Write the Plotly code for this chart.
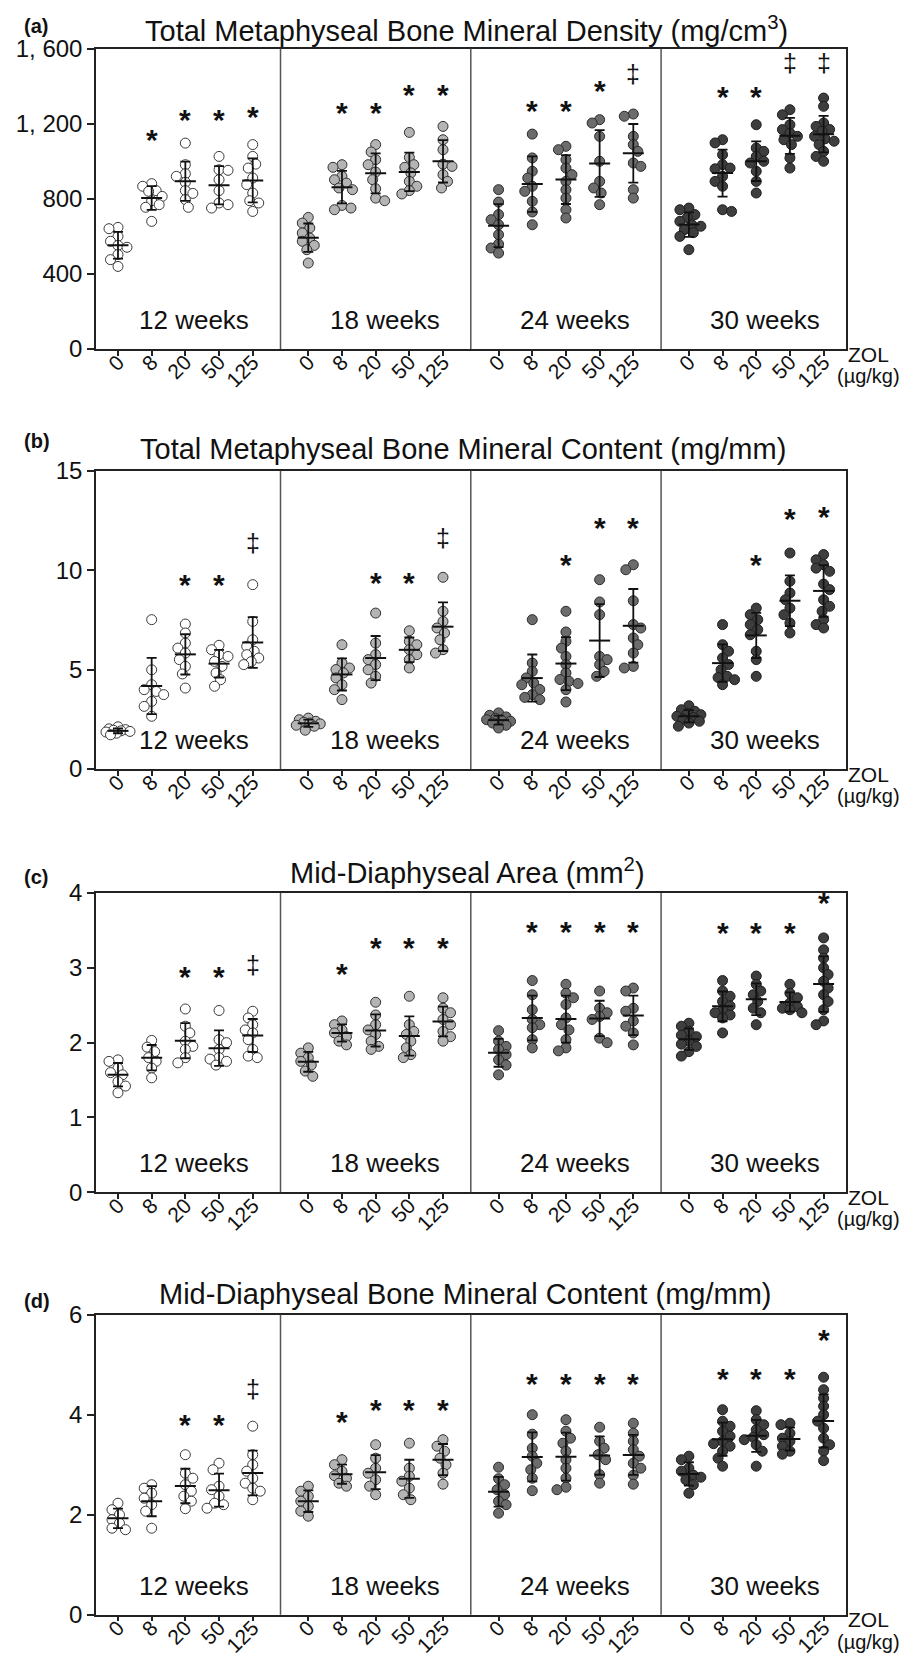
import numpy as np
import plotly.graph_objects as go

doses = ["0", "8", "20", "50", "125"]
weeks = ["12 weeks", "18 weeks", "24 weeks", "30 weeks"]

# ---------------- (a) Total Metaphyseal BMD (mg/cm3) ----------------
bmd_12w = [
    [648, 641, 600, 574, 552, 542, 503, 476, 440],
    [881, 867, 844, 840, 813, 790, 769, 755, 680],
    [1097, 982, 934, 920, 888, 844, 829, 796, 755],
    [1026, 955, 952, 902, 844, 778, 769, 751],
    [1089, 1026, 985, 964, 911, 876, 831, 790, 778, 733],
]
bmd_18w = [
    [701, 671, 645, 618, 591, 574, 552, 529, 458],
    [982, 968, 920, 902, 884, 858, 849, 765, 751, 742],
    [1089, 1050, 1009, 982, 943, 902, 854, 804, 790],
    [1154, 1021, 982, 968, 938, 893, 867, 844, 826],
    [1186, 1115, 1062, 985, 973, 929, 893, 858],
]
bmd_24w = [
    [849, 783, 716, 689, 662, 609, 559, 538, 511],
    [1145, 1018, 947, 911, 867, 840, 787, 730, 662],
    [1080, 1062, 1009, 964, 929, 893, 849, 804, 742, 698],
    [1222, 1204, 1133, 1000, 893, 858, 831, 769],
    [1252, 1240, 1133, 1089, 1053, 991, 973, 849, 804],
]
bmd_30w = [
    [751, 742, 716, 700, 680, 662, 654, 636, 620, 600, 529],
    [1115, 1098, 1035, 982, 964, 960, 920, 893, 867, 742, 733],
    [1195, 1071, 1053, 1026, 1000, 991, 947, 893, 831],
    [1275, 1248, 1195, 1169, 1150, 1133, 1115, 1089, 1018, 964],
    [1337, 1293, 1204, 1186, 1170, 1160, 1133, 1120, 1107, 1089, 1053, 1026, 1000],
]
bmd_sig = [["", "*", "*", "*", "*"], ["", "*", "*", "*", "*"],
           ["", "*", "*", "*", "‡"], ["", "*", "*", "‡", "‡"]]
bmd_sig_y = [[None, 1089, 1195, 1195, 1213], [None, 1231, 1231, 1328, 1328],
             [None, 1245, 1245, 1351, 1426], [None, 1320, 1320, 1488, 1488]]

# ---------------- (b) Total Metaphyseal BMC (mg/mm) ----------------
bmc_12w = [
    [2.12, 2.02, 1.98, 1.95, 1.92, 1.89, 1.86, 1.80, 1.72],
    [7.51, 4.99, 4.24, 3.99, 3.90, 3.74, 3.40, 3.15, 2.65],
    [7.29, 6.84, 6.33, 6.08, 5.83, 5.50, 5.16, 4.78, 4.07],
    [6.22, 6.00, 5.75, 5.66, 5.41, 5.16, 4.83, 4.49, 4.16],
    [9.27, 7.42, 6.50, 6.17, 5.92, 5.75, 5.58, 5.40, 5.25],
]
bmc_18w = [
    [2.56, 2.48, 2.40, 2.35, 2.31, 2.27, 2.20, 2.15, 1.95],
    [6.25, 5.33, 5.08, 5.00, 4.83, 4.58, 4.24, 3.99, 3.49],
    [7.84, 6.33, 5.75, 5.50, 5.25, 4.99, 4.66, 4.32],
    [6.95, 6.42, 6.25, 6.00, 5.75, 5.50, 5.08],
    [9.64, 7.93, 7.42, 7.09, 6.84, 6.50, 6.00, 5.83],
]
bmc_24w = [
    [2.82, 2.70, 2.62, 2.55, 2.48, 2.45, 2.40, 2.31, 2.20, 2.06],
    [7.51, 5.33, 4.91, 4.58, 4.32, 4.24, 4.00, 3.74, 3.60, 3.49],
    [7.93, 6.89, 6.42, 6.08, 5.66, 5.25, 4.83, 4.50, 4.41, 4.30, 3.99, 3.37],
    [9.52, 8.40, 7.76, 5.66, 5.50, 5.25, 4.91, 4.66],
    [10.27, 10.02, 8.46, 7.26, 7.09, 6.59, 6.25, 5.83, 5.16, 5.08],
]
bmc_30w = [
    [3.18, 2.98, 2.90, 2.80, 2.73, 2.65, 2.58, 2.50, 2.40, 2.31, 2.15],
    [7.26, 6.25, 5.92, 5.58, 5.25, 4.99, 4.66, 4.60, 4.49, 4.24],
    [8.09, 7.76, 7.51, 7.26, 7.01, 6.75, 5.92, 5.50, 4.66],
    [10.86, 9.44, 8.85, 8.51, 8.09, 7.76, 7.34, 6.84],
    [10.78, 10.52, 10.27, 10.10, 9.94, 9.30, 9.02, 8.51, 8.18, 7.93, 7.51, 7.26, 7.09],
]
bmc_sig = [["", "", "*", "*", "‡"], ["", "", "*", "*", "‡"],
           ["", "", "*", "*", "*"], ["", "", "*", "*", "*"]]
bmc_sig_y = [[None, None, 9.02, 9.02, 11.03], [None, None, 9.13, 9.13, 11.28],
             [None, None, 10.02, 11.9, 11.9], [None, None, 10.02, 12.37, 12.45]]

# ---------------- (c) Mid-Diaphyseal Area (mm2) ----------------
area_12w = [
    [1.77, 1.75, 1.66, 1.60, 1.57, 1.48, 1.42, 1.33],
    [2.03, 1.94, 1.88, 1.80, 1.75, 1.66, 1.53],
    [2.45, 2.22, 2.13, 2.02, 1.95, 1.91, 1.80, 1.73],
    [2.43, 2.04, 2.00, 1.91, 1.80, 1.78, 1.75, 1.70],
    [2.42, 2.33, 2.24, 2.17, 2.13, 2.04, 1.91, 1.82, 1.80],
]
area_18w = [
    [1.93, 1.86, 1.80, 1.75, 1.70, 1.62, 1.55],
    [2.29, 2.24, 2.17, 2.13, 2.08, 2.02, 1.97],
    [2.54, 2.37, 2.24, 2.17, 2.11, 2.02, 1.95, 1.91],
    [2.62, 2.24, 2.15, 2.11, 2.02, 1.93, 1.84, 1.80],
    [2.60, 2.46, 2.40, 2.31, 2.24, 2.15, 2.08, 2.02],
]
area_24w = [
    [2.16, 2.02, 1.95, 1.91, 1.84, 1.77, 1.70, 1.57],
    [2.83, 2.64, 2.44, 2.31, 2.24, 2.20, 2.04, 1.93],
    [2.78, 2.66, 2.60, 2.51, 2.33, 2.24, 2.17, 2.04, 1.93, 1.89],
    [2.69, 2.46, 2.40, 2.35, 2.31, 2.06, 2.00],
    [2.73, 2.69, 2.46, 2.42, 2.29, 2.22, 2.13, 1.97],
]
area_30w = [
    [2.26, 2.22, 2.15, 2.10, 2.08, 2.02, 1.98, 1.95, 1.88, 1.82],
    [2.83, 2.69, 2.62, 2.55, 2.49, 2.44, 2.40, 2.37, 2.33, 2.13],
    [2.89, 2.78, 2.69, 2.64, 2.55, 2.46, 2.40, 2.24],
    [2.78, 2.66, 2.60, 2.53, 2.48, 2.46, 2.44, 2.40],
    [3.40, 3.24, 3.13, 3.00, 2.91, 2.82, 2.73, 2.64, 2.55, 2.44, 2.29, 2.24],
]
area_sig = [["", "", "*", "*", "‡"], ["", "*", "*", "*", "*"],
            ["", "*", "*", "*", "*"], ["", "*", "*", "*", "*"]]
area_sig_y = [[None, None, 2.82, 2.82, 2.95], [None, 2.86, 3.20, 3.20, 3.20],
              [None, 3.42, 3.42, 3.42, 3.42], [None, 3.40, 3.40, 3.40, 3.80]]

# ---------------- (d) Mid-Diaphyseal BMC (mg/mm) ----------------
mdbmc_12w = [
    [2.23, 2.10, 2.00, 1.90, 1.83, 1.73, 1.70],
    [2.60, 2.53, 2.43, 2.33, 2.20, 2.07, 1.73],
    [3.20, 2.83, 2.73, 2.60, 2.47, 2.37, 2.27, 2.12],
    [3.03, 2.90, 2.57, 2.50, 2.37, 2.23, 2.20, 2.13],
    [3.77, 3.20, 3.00, 2.87, 2.73, 2.63, 2.53, 2.47, 2.30],
]
mdbmc_18w = [
    [2.57, 2.47, 2.37, 2.27, 2.17, 2.07, 1.97],
    [3.10, 3.00, 2.87, 2.78, 2.73, 2.63, 2.57],
    [3.40, 3.13, 2.93, 2.83, 2.70, 2.57, 2.40],
    [3.43, 2.93, 2.77, 2.67, 2.53, 2.40, 2.30],
    [3.50, 3.37, 3.27, 3.13, 3.00, 2.83, 2.61],
]
mdbmc_24w = [
    [2.95, 2.72, 2.60, 2.50, 2.40, 2.27, 2.20, 2.03],
    [4.00, 3.61, 3.33, 3.17, 3.03, 2.90, 2.73, 2.48],
    [3.90, 3.67, 3.53, 3.43, 3.27, 3.10, 2.93, 2.73, 2.55, 2.50],
    [3.75, 3.47, 3.33, 3.20, 3.10, 2.80, 2.63],
    [3.83, 3.63, 3.47, 3.30, 3.17, 3.03, 2.93, 2.79, 2.61],
]
mdbmc_30w = [
    [3.17, 3.10, 2.93, 2.87, 2.79, 2.75, 2.70, 2.60, 2.43],
    [4.10, 3.87, 3.77, 3.67, 3.57, 3.47, 3.42, 3.37, 3.27, 3.13, 2.97],
    [4.08, 3.90, 3.80, 3.70, 3.60, 3.55, 3.50, 3.40, 3.27, 2.97],
    [3.83, 3.80, 3.63, 3.53, 3.47, 3.37, 3.27, 3.21],
    [4.75, 4.50, 4.33, 4.17, 4.00, 3.87, 3.73, 3.53, 3.40, 3.27, 3.08],
]
mdbmc_sig = [["", "", "*", "*", "‡"], ["", "*", "*", "*", "*"],
             ["", "*", "*", "*", "*"], ["", "*", "*", "*", "*"]]
mdbmc_sig_y = [[None, None, 3.70, 3.70, 4.37], [None, 3.77, 4.0, 4.0, 4.0],
               [None, 4.53, 4.53, 4.53, 4.53], [None, 4.63, 4.63, 4.63, 5.40]]

titles = [
    "Total Metaphyseal Bone Mineral Density (mg/cm<sup>3</sup>)",
    "Total Metaphyseal Bone Mineral Content (mg/mm)",
    "Mid-Diaphyseal Area (mm<sup>2</sup>)",
    "Mid-Diaphyseal Bone Mineral Content (mg/mm)",
]
panel_tags = ["(a)", "(b)", "(c)", "(d)"]
y_ticks = [[0, 400, 800, 1200, 1600], [0, 5, 10, 15], [0, 1, 2, 3, 4], [0, 2, 4, 6]]

# ---------------- layout geometry ----------------
W, H = 913, 1654
FONT = "Liberation Sans, Arial, sans-serif"
X_L, X_R = 88, 838
GAP = 5.65
XR = [-0.653, 21.615]
PPU_X = (X_R - X_L) / (XR[1] - XR[0])
panel_px = [(40.7, 341.0), (462.7, 761.0), (885.0, 1184.3), (1306.7, 1606.7)]
title_cy = [21, 441, 863, 1286]
title_cx = [458, 455, 459, 457]
tag_cy = [18, 433, 869, 1293]

fills = ["#ffffff", "#b4b4b4", "#6c6c6c", "#3e3e3e"]
edges = ["#3a3a3a", "#303030", "#2a2a2a", "#1e1e1e"]

panels = [
    ([bmd_12w, bmd_18w, bmd_24w, bmd_30w], bmd_sig, bmd_sig_y),
    ([bmc_12w, bmc_18w, bmc_24w, bmc_30w], bmc_sig, bmc_sig_y),
    ([area_12w, area_18w, area_24w, area_30w], area_sig, area_sig_y),
    ([mdbmc_12w, mdbmc_18w, mdbmc_24w, mdbmc_30w], mdbmc_sig, mdbmc_sig_y),
]


def swarm(vals, ppu_y, d=8.0, step=1.5, maxoff=12.0):
    """Deterministic beeswarm offsets in pixels."""
    order = sorted(range(len(vals)), key=lambda i: -vals[i])
    placed, res = [], [0.0] * len(vals)
    for k, i in enumerate(order):
        ypx = vals[i] * ppu_y
        s = 1 if k % 2 == 0 else -1
        cands = [0.0]
        j = 1
        while j * step <= maxoff:
            cands += [s * j * step, -s * j * step]
            j += 1
        chosen, best, bestc = None, -1, 0.0
        for c in cands:
            md = min([np.hypot(c - px, ypx - py) for px, py in placed], default=1e9)
            if md >= d:
                chosen = c
                break
            if md > best:
                best, bestc = md, c
        if chosen is None:
            chosen = bestc
        placed.append((chosen, ypx))
        res[i] = chosen
    return res


def fmt_tick(v):
    s = f"{v:,}"
    return s.replace(",", ", ")


fig = go.Figure()
layout = dict(width=W, height=H, autosize=False, margin=dict(l=0, r=0, t=0, b=0),
              plot_bgcolor="white", paper_bgcolor="white", showlegend=False,
              font=dict(family=FONT, color="#111"))
annotations, shapes = [], []

tickpos = [g * GAP + i for g in range(4) for i in range(5)]
ticktxt = doses * 4

for p, (groups, sig, sig_y) in enumerate(panels):
    top, bot = panel_px[p]
    ymax = y_ticks[p][-1]
    ppu_y = (bot - top) / ymax
    sfx = "" if p == 0 else str(p + 1)
    xa, ya = "x" + sfx, "y" + sfx
    layout["xaxis" + sfx] = dict(
        domain=[X_L / W, X_R / W], range=XR, anchor=ya, tickmode="array",
        tickvals=tickpos, ticktext=ticktxt, tickangle=-45, ticks="outside",
        ticklen=5, tickwidth=1.5, tickcolor="#222", showline=True, linecolor="#222",
        linewidth=1.5, mirror=True, showgrid=False, zeroline=False,
        ticklabelstandoff=-14,
        tickfont=dict(size=21, family=FONT, color="#111"), automargin=False)
    layout["yaxis" + sfx] = dict(
        domain=[1 - bot / H, 1 - top / H], range=[0, ymax], anchor=xa,
        tickmode="array", tickvals=y_ticks[p],
        ticktext=[fmt_tick(v) for v in y_ticks[p]], ticks="outside", ticklen=7,
        tickwidth=1.5, tickcolor="#222", showline=True, linecolor="#222",
        linewidth=1.5, mirror=True, showgrid=False, zeroline=False,
        tickfont=dict(size=24, family=FONT, color="#111"), automargin=False)

    for g in range(4):
        xs, ys, mx, my, sd = [], [], [], [], []
        for i, vals in enumerate(groups[g]):
            x0 = g * GAP + i
            offs = swarm(vals, ppu_y)
            xs += [x0 + o / PPU_X for o in offs]
            ys += list(vals)
            mx.append(x0)
            my.append(float(np.mean(vals)))
            sd.append(float(np.std(vals, ddof=1)))
        fig.add_trace(go.Scatter(
            x=xs, y=ys, xaxis=xa, yaxis=ya, mode="markers",
            marker=dict(size=10, color=fills[g], line=dict(width=1, color=edges[g])),
            hoverinfo="skip"))
        fig.add_trace(go.Scatter(
            x=mx, y=my, xaxis=xa, yaxis=ya, mode="markers",
            marker=dict(symbol="line-ew", size=15, color="#111",
                        line=dict(width=2, color="#111")),
            error_y=dict(type="data", array=sd, visible=True, color="#111",
                         thickness=1.8, width=5),
            hoverinfo="skip"))
        # week label
        annotations.append(dict(x=g * GAP + 2.27, y=0.097, xref=xa, yref=ya + " domain",
                                text=weeks[g], showarrow=False, xanchor="center",
                                yanchor="middle", font=dict(size=26, family=FONT, color="#111")))
        # significance symbols
        for i in range(5):
            if sig[g][i]:
                star = sig[g][i] == "*"
                annotations.append(dict(
                    x=g * GAP + i, y=sig_y[g][i], xref=xa, yref=ya,
                    text="<b>*</b>" if star else "‡",
                    showarrow=False, xanchor="center", yanchor="middle",
                    yshift=5 if star else 7,
                    font=dict(size=30 if star else 25, family=FONT, color="#111")))
        if g < 3:
            xd = g * GAP + 4 + (GAP - 4) / 2
            shapes.append(dict(type="line", xref=xa, yref=ya + " domain", x0=xd, x1=xd,
                               y0=0, y1=1, line=dict(color="#555", width=1.5)))

    # titles, tags, ZOL label
    annotations.append(dict(x=title_cx[p] / W, y=1 - title_cy[p] / H, xref="paper",
                            yref="paper", text=titles[p], showarrow=False, xanchor="center",
                            yanchor="middle", font=dict(size=29, family=FONT, color="#111")))
    annotations.append(dict(x=14 / W, y=1 - tag_cy[p] / H, xref="paper", yref="paper",
                            text="<b>" + panel_tags[p] + "</b>", showarrow=False,
                            xanchor="left", yanchor="middle",
                            font=dict(size=20, family=FONT, color="#111")))
    annotations.append(dict(x=838 / W, y=1 - (bot + 5) / H, xref="paper", yref="paper",
                            text="ZOL", showarrow=False, xanchor="left", yanchor="middle",
                            font=dict(size=21, family=FONT, color="#111")))
    annotations.append(dict(x=827 / W, y=1 - (bot + 27) / H, xref="paper", yref="paper",
                            text="(µg/kg)", showarrow=False, xanchor="left", yanchor="middle",
                            font=dict(size=20, family=FONT, color="#111")))

layout["annotations"] = annotations
layout["shapes"] = shapes
fig.update_layout(**layout)
fig.write_html("out.html")
